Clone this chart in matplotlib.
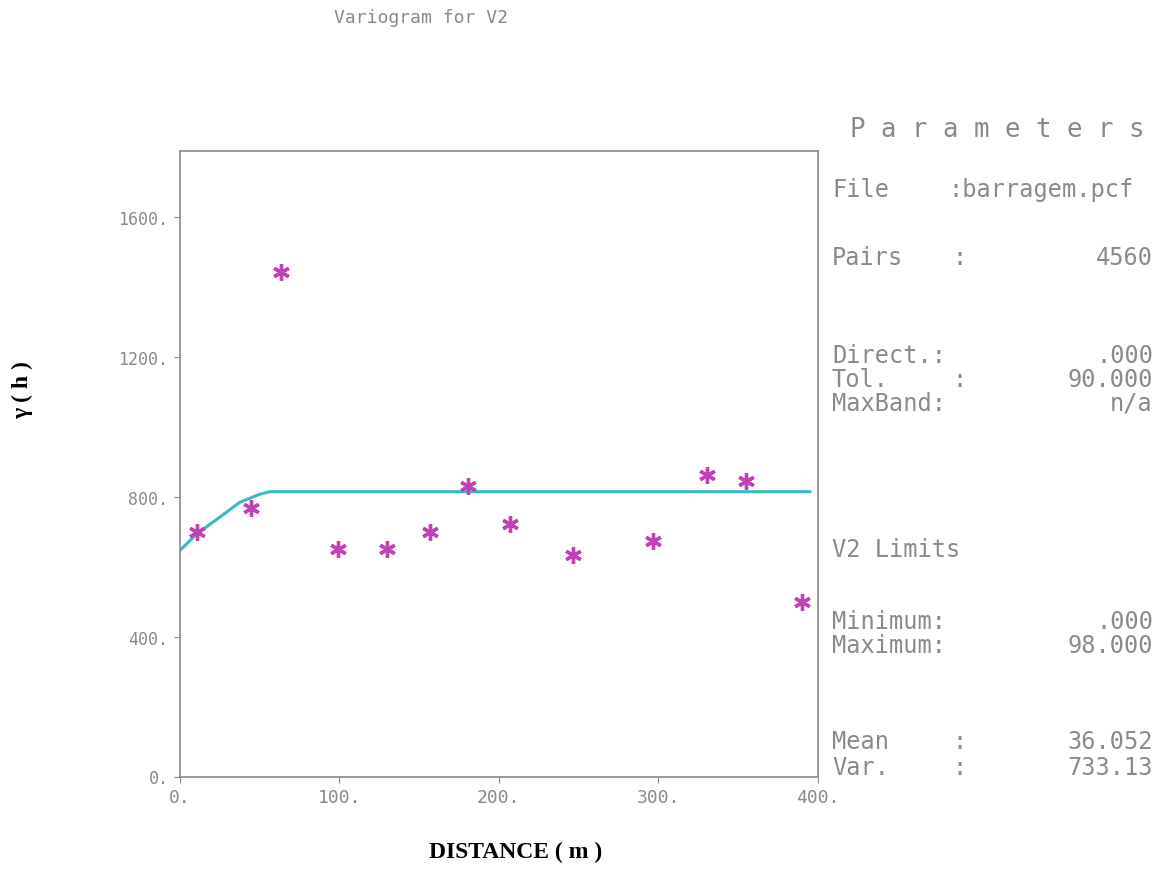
import numpy as np
import matplotlib
matplotlib.use("Agg")
import matplotlib.pyplot as plt

#%% datos del variograma experimental
dist = [10.9, 44.8, 63.6, 99.2, 130.2, 157.0, 181.0, 207.0, 246.7, 296.7, 330.4, 355.2, 389.7]
gamma = [701, 769, 1445, 651, 651, 701, 831, 723, 635, 673, 864, 846, 499]

# modelo ajustado
mod_x = [0, 10.8, 21, 37.9, 50.4, 56.7, 395]
mod_y = [646, 694, 728, 785, 808, 815, 815]

yticks = [0, 400, 800, 1200, 1600]
xticks = [0, 100, 200, 300, 400]

param_labels = ["File", "Pairs", "Direct.:", "Tol.", "MaxBand:", "V2 Limits",
                "Minimum:", "Maximum:", "Mean", "Var."]
param_values = [":barragem.pcf", "4560", ".000", "90.000", "n/a", "",
                ".000", "98.000", "36.052", "733.13"]
param_rows_px = [190, 258, 356, 380, 404, 550, 622, 646, 742, 768]

#%%
W, H = 1159, 895
gris = "#8a8a8a"
mono = "DejaVu Sans Mono"
fs_par = 17

fig = plt.figure(figsize=(W / 100, H / 100), dpi=100)
ax = fig.add_axes([179.5 / W, 1 - 777.5 / H, (818 - 179.5) / W, (777.5 - 152) / H])

ax.plot(mod_x, mod_y, color="#35b9c6", lw=2.2)
ax.plot(dist, gamma, linestyle="none", marker=(6, 2, 0), markersize=12,
        markeredgewidth=2.4, color="#c042b4")

ax.set_xlim(0, 400)
ax.set_ylim(0, 1790)
ax.set_xticks(xticks)
ax.set_yticks(yticks)
ax.set_xticklabels([f"{v}." for v in xticks], family=mono, fontsize=13, color=gris)
ax.set_yticklabels([f"{v}." for v in yticks], family=mono, fontsize=12, color=gris)
ax.tick_params(length=4, color=gris, pad=4)
for s in ax.spines.values():
    s.set_color(gris)
    s.set_linewidth(1.2)

def px(x, y):
    return x / W, 1 - y / H

fig.text(*px(421, 18), "Variogram for V2", family=mono, fontsize=13,
         color=gris, ha="center", va="center")
fig.text(*px(516, 852), "DISTANCE ( m )", family="Liberation Serif",
         fontweight="bold", fontsize=17, ha="center", va="center")
fig.text(*px(22, 390), "\u03b3 ( h )", family="Liberation Serif",
         fontweight="bold", fontsize=17, ha="center", va="center", rotation=90)

# panel de parametros
fig.text(*px(997, 130), "P a r a m e t e r s", family=mono, fontsize=18.5,
         color=gris, ha="center", va="center")
for lab, val, yy in zip(param_labels, param_values, param_rows_px):
    fig.text(*px(832, yy), lab, family=mono, fontsize=fs_par, color=gris, va="center")
    if lab == "V2 Limits":
        continue
    if lab == "File":
        fig.text(*px(948, yy), val, family=mono, fontsize=fs_par, color=gris, va="center")
        continue
    if not lab.endswith(":"):
        fig.text(*px(952, yy), ":", family=mono, fontsize=fs_par, color=gris, va="center")
    fig.text(*px(1153, yy), val, family=mono, fontsize=fs_par, color=gris,
             va="center", ha="right")

fig.savefig("out.png", dpi=100)
